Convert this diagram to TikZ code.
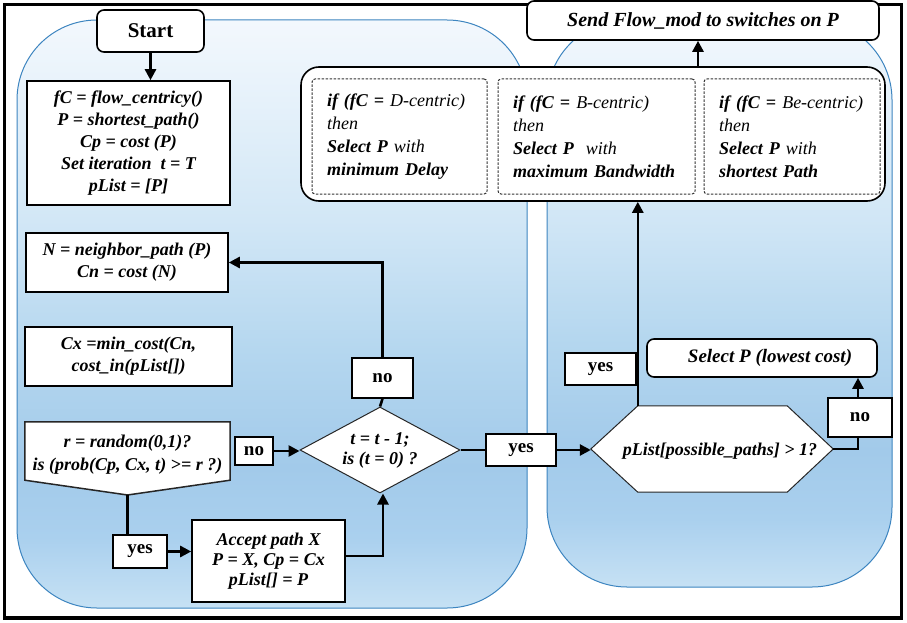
\documentclass[tikz,border=0pt]{standalone}
\usepackage{fontspec}
\setmainfont{Liberation Serif}
\usetikzlibrary{arrows.meta,shapes.geometric,calc}

% panel colours, from the bottom edge upwards
\definecolor{pa}{HTML}{C6E1F4}
\definecolor{pb}{HTML}{AAD0EE}
\definecolor{pc}{HTML}{A2CAEA}
\definecolor{pd}{HTML}{B5D7EF}
\definecolor{pe}{HTML}{D2E7F6}
\definecolor{pf}{HTML}{F3F8FD}
\definecolor{panelline}{HTML}{3D85C0}

\pgfdeclareverticalshading{panelfill}{100bp}{%
  color(0bp)=(pa); color(25bp)=(pa); color(31bp)=(pb); color(37bp)=(pc);
  color(47bp)=(pd); color(58bp)=(pe); color(75bp)=(pf); color(100bp)=(pf)}

\tikzset{
  base/.style={font=\fontsize{18}{22}\selectfont\bfseries\itshape, align=center, inner sep=0pt},
  box/.style={base, draw=black, line width=1.6pt, fill=white},
  rbox/.style={box, rounded corners=7pt},
  lbl/.style={draw=black, line width=1.6pt, fill=white, inner sep=0pt,
              font=\fontsize{19}{22}\selectfont\bfseries},
  outline/.style={draw=black!85, line width=1pt, fill=white},
  dbox/.style={base, draw=black!80, line width=1pt, dash pattern=on 2.5pt off 1.5pt,
               rounded corners=3pt, fill=white, align=left, inner xsep=15pt,
               font=\fontsize{18}{23}\selectfont\bfseries\itshape, minimum height=115pt},
  panel/.style={draw=panelline, line width=1pt, rounded corners=80pt, shading=panelfill},
  conn/.style={line width=2.6pt},
  arr/.style={conn, -{Triangle[length=11pt,width=11pt]}}
}

\begin{document}
\begin{tikzpicture}[x=1pt,y=-1pt]
\useasboundingbox (0,0) rectangle (907,623);
\fill[white] (0,0) rectangle (907,623);
\draw[line width=3.2pt] (4.5,4.5) rectangle (901.5,618);

% the two background panels
\path[panel] (17,20) rectangle (527,608);
\path[panel] (547,20) rectangle (892,587);

% left column
\node[rbox, font=\fontsize{21}{24}\selectfont\bfseries, minimum width=107pt, minimum height=42pt]
  (start) at (150.5,31) {Start};
\node[box, minimum width=203pt, minimum height=124pt] (init) at (128.5,143)
  {fC = flow\_centricy()\\P = shortest\_path()\\Cp = cost (P)\\Set iteration\ \ t = T\\pList = [P]};
\node[box, minimum width=202pt, minimum height=59pt] (nbr) at (127,262.5)
  {N = neighbor\_path (P)\\Cn = cost (N)};
\node[box, minimum width=207pt, minimum height=59pt] (cx) at (128.5,356.5)
  {Cx =min\_cost(Cn,\\cost\_in(pList[])};

\node[base, minimum width=205pt, minimum height=58pt] (rnd) at (127.5,451) {};
\coordinate (rndtip) at (127.5,495);
\draw[outline, line width=1.5pt] (rnd.north west) -- (rnd.north east) -- (rnd.south east)
  -- (rndtip) -- (rnd.south west) -- cycle;
\node[base, font=\fontsize{18}{23}\selectfont\bfseries\itshape] (rndtxt) at (127.5,455)
  {r = random(0,1)?\\is (prob(Cp, Cx, t) >= r ?)};

\node[lbl, minimum width=38pt, minimum height=28pt] (no1) at (254,451) {no};
\node[lbl, minimum width=54pt, minimum height=33pt] (yes3) at (140,551.5) {yes};
\node[box, font=\fontsize{18}{20}\selectfont\bfseries\itshape, minimum width=153pt, minimum height=82pt]
  (accept) at (268.5,561) {Accept path X\\P = X, Cp = Cx\\pList[] = P};

% loop test
\node[diamond, outline, minimum width=160pt, minimum height=86pt, inner sep=0pt] (dia) at (380,450) {};
\node[base, font=\fontsize{18}{20}\selectfont\bfseries\itshape] (diatxt) at (dia.center)
  {t = t - 1;\\is (t = 0) ?};
\node[lbl, minimum width=61pt, minimum height=40pt] (no2) at (382.5,378) {no};
\node[lbl, minimum width=70pt, minimum height=32pt] (yes1) at (521,450) {yes};

% right column
\node[base, minimum width=242pt, minimum height=86pt] (hex) at (712,449) {};
\coordinate (hexnw) at ([xshift=47pt]hex.north west);
\draw[outline] (hex.west) -- (hexnw) -- ([xshift=-46pt]hex.north east) -- (hex.east)
  -- ([xshift=-46pt]hex.south east) -- ([xshift=47pt]hex.south west) -- cycle;
\node[base] (hextxt) at (720,451) {pList[possible\_paths] > 1?};

\node[lbl, minimum width=71pt, minimum height=32pt] (yes2) at (600.5,369) {yes};
\node[lbl, minimum width=64pt, minimum height=39pt] (no3) at (860,417.5) {no};
\node[rbox, font=\fontsize{19}{22}\selectfont\bfseries\itshape, minimum width=230pt, minimum height=38pt]
  (selP) at (762,358) {\hspace*{16pt}Select P (lowest cost)};

\node[rbox, rounded corners=18pt, minimum width=584pt, minimum height=134pt] (ifbox) at (593,134) {};
\node[dbox, text width=145pt] (d1) at (399.5,136.5)
  {if (fC = {\mdseries D-centric)}\\{\mdseries then}\\Select P {\mdseries with}\\minimum Delay};
\node[dbox, text width=167pt] (d2) at (596.5,136.5)
  {if (fC = {\mdseries B-centric)}\\{\mdseries then}\\Select P\ \ {\mdseries with}\\maximum Bandwidth};
\node[dbox, text width=146pt] (d3) at (792,136.5)
  {if (fC = {\mdseries Be-centric)}\\{\mdseries then}\\Select P {\mdseries with}\\shortest Path};

\node[rbox, font=\fontsize{20}{22}\selectfont\bfseries\itshape, minimum width=352pt, minimum height=39pt]
  (send) at (703,20.5) {Send Flow\_mod to switches on P};

% connectors
\draw[arr] (start.south) -- (start.south |- init.north);
\draw[arr] (no2.north) |- (nbr.east);
\draw[conn] (dia.north) -- (no2.south);
\draw[arr] (no1.east) -- (no1.east -| dia.west);
\draw[conn] (rndtip) -- (rndtip |- yes3.north);
\draw[arr] (yes3.east) -- (yes3.east -| accept.west);
\draw[arr] ([yshift=5pt]accept.east) -| ([xshift=3pt]dia.south);
\draw[conn] (dia.east) -- (yes1.west);
\draw[arr] (yes1.east) -- (yes1.east -| hex.west);
\draw[arr] (hexnw) -- (hexnw |- ifbox.south);
\draw[conn] (hex.east) -| ([xshift=-2pt]no3.south);
\draw[arr] ([xshift=-2pt]no3.north) -- ([xshift=-2pt]no3.north |- selP.south);
\draw[arr] ([xshift=-5pt]send.south |- ifbox.north) -- ([xshift=-5pt]send.south);
\end{tikzpicture}
\end{document}
